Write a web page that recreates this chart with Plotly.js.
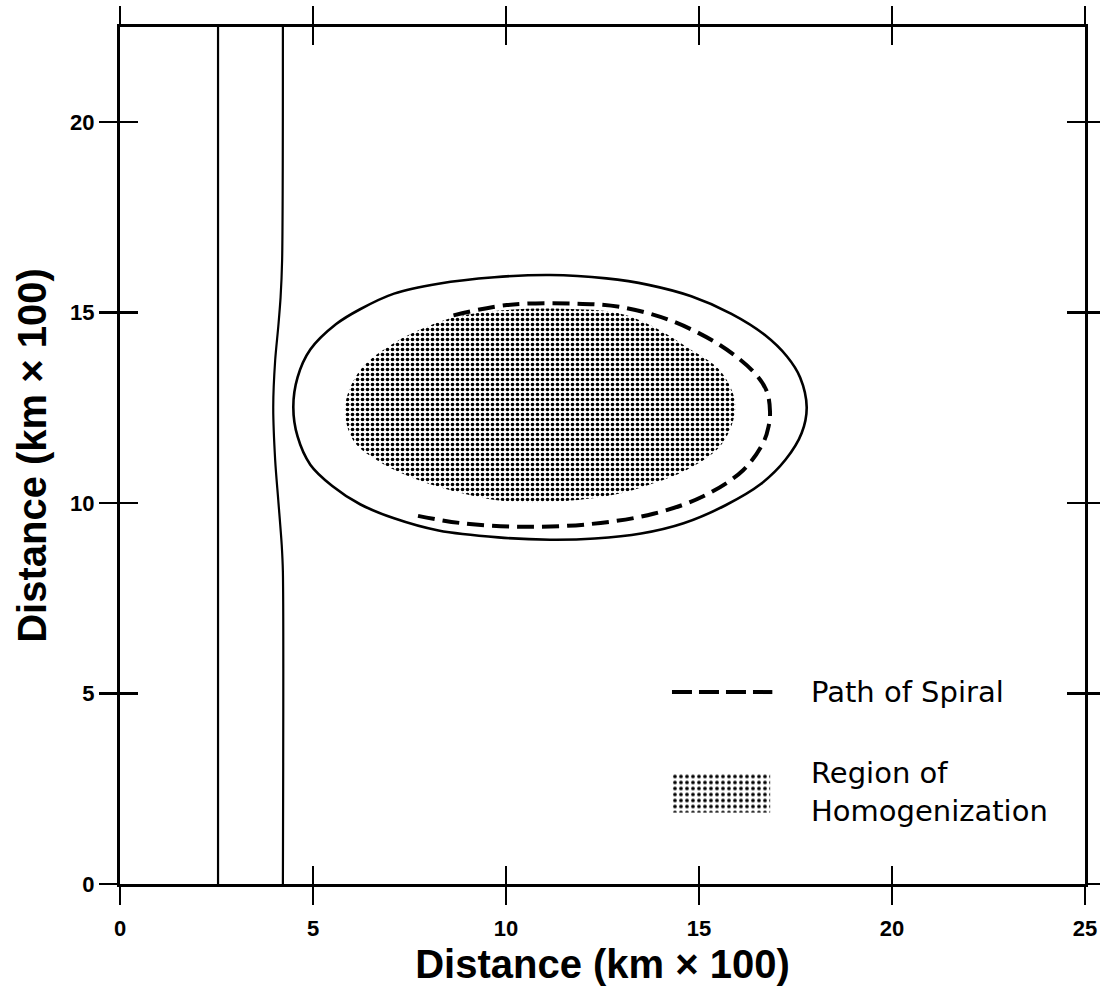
<!DOCTYPE html>
<html>
<head>
<meta charset="utf-8">
<script src="https://cdn.plot.ly/plotly-3.0.1.min.js"></script>
<style>
  html, body { margin: 0; padding: 0; background: #ffffff; }
  #chart { width: 1100px; height: 998px; }
</style>
</head>
<body>
<div id="chart"></div>
<script>
// ---- data ----
const xTickVals = [0, 5, 10, 15, 20, 25];
const yTickVals = [0, 5, 10, 15, 20];

// left vertical line
const line1X = [2.54, 2.54];
const line1Y = [0, 22.5];

// second vertical line (slight bulge to the left near y = 12.5)
const line2X = [4.22, 4.22, 4.19, 4.10, 4.02, 3.97, 4.02, 4.10, 4.16, 4.20, 4.22];
const line2Y = [0, 8.2, 8.9, 10.08, 11.13, 12.53, 13.75, 14.63, 15.40, 16.38, 22.5];

// outer solid closed curve
const outerX = [4.49, 4.60, 4.93, 5.60, 6.22, 7.10, 8.25, 9.70, 11.14, 12.60, 13.69, 14.80, 15.84, 16.70, 17.28, 17.62, 17.79, 17.66, 17.25, 16.60, 15.70, 14.60, 13.50, 12.30, 11.14, 9.80, 8.25, 7.10, 6.22, 5.50, 4.93, 4.60, 4.49];
const outerY = [12.52, 13.30, 14.03, 14.70, 15.09, 15.50, 15.76, 15.93, 15.99, 15.90, 15.73, 15.43, 14.97, 14.42, 13.85, 13.30, 12.52, 11.84, 11.15, 10.50, 9.95, 9.47, 9.20, 9.07, 9.04, 9.10, 9.28, 9.60, 9.97, 10.45, 11.01, 11.75, 12.52];

// path of spiral (dashed, open)
const spiralX = [8.64, 10.02, 11.74, 12.95, 14.25, 15.54, 16.41, 16.75, 16.84, 16.80, 16.67, 16.15, 15.11, 13.82, 12.18, 10.45, 8.80, 7.55];
const spiralY = [14.93, 15.20, 15.24, 15.15, 14.80, 14.15, 13.45, 12.95, 12.40, 12.00, 11.60, 10.87, 10.18, 9.72, 9.45, 9.38, 9.48, 9.70];

// region of homogenization (stippled)
const regionX = [5.83, 6.22, 7.08, 7.95, 8.72, 10.0, 11.5, 12.95, 13.82, 14.68, 15.54, 15.93, 15.89, 15.54, 14.68, 13.82, 12.95, 11.5, 10.0, 8.55, 7.51, 6.65, 6.04, 5.83];
const regionY = [12.53, 13.49, 14.19, 14.63, 14.89, 15.07, 15.10, 14.98, 14.63, 14.10, 13.49, 12.70, 12.18, 11.48, 10.87, 10.52, 10.25, 10.05, 10.05, 10.34, 10.69, 11.13, 11.65, 12.53];

// legend swatch (unit box on its own small axes)
const swatchX = [0, 1, 1, 0, 0];
const swatchY = [0, 0, 1, 1, 0];

const legendNames = ['Path of Spiral', 'Region of<br>Homogenization'];
const axisTitle = 'Distance (km × 100)';

// ---- styling ----
const ink = '#000000';
const paper = '#ffffff';
const clear = 'rgba(255,255,255,0)';

const traces = [
  { x: regionX, y: regionY, type: 'scatter', mode: 'lines', fill: 'toself',
    fillcolor: paper,
    fillpattern: { shape: '.', size: 5, solidity: 0.42, fgcolor: ink, fgopacity: 1, bgcolor: paper, fillmode: 'replace' },
    line: { width: 0, shape: 'spline', smoothing: 1, color: clear },
    name: legendNames[1], showlegend: false, hoverinfo: 'skip' },
  { x: outerX, y: outerY, type: 'scatter', mode: 'lines',
    line: { width: 2.6, shape: 'spline', smoothing: 1, color: ink },
    showlegend: false, hoverinfo: 'skip' },
  { x: spiralX, y: spiralY, type: 'scatter', mode: 'lines',
    line: { width: 4, shape: 'spline', smoothing: 1, color: ink, dash: '17px,8px' },
    name: legendNames[0], showlegend: false, hoverinfo: 'skip' },
  { x: line2X, y: line2Y, type: 'scatter', mode: 'lines',
    line: { width: 2.2, shape: 'spline', smoothing: 0.8, color: ink },
    showlegend: false, hoverinfo: 'skip' },
  { x: line1X, y: line1Y, xaxis: 'x2', yaxis: 'y2', type: 'scatter', mode: 'lines',
    line: { width: 2.2, color: ink },
    showlegend: false, hoverinfo: 'skip' },
  { x: swatchX, y: swatchY, xaxis: 'x3', yaxis: 'y3', type: 'scatter', mode: 'lines', fill: 'toself',
    fillcolor: paper,
    fillpattern: { shape: '.', size: 6, solidity: 0.3, fgcolor: ink, fgopacity: 1, bgcolor: paper, fillmode: 'replace' },
    line: { width: 0, color: clear },
    showlegend: false, hoverinfo: 'skip' }
];

const tickFont = { family: 'Liberation Sans, Arial, sans-serif', size: 22, color: ink, weight: 'bold' };
const titleFont = { family: 'Liberation Sans, Arial, sans-serif', size: 40, color: ink, weight: 'bold' };
const legendFont = { family: 'DejaVu Sans, sans-serif', size: 29, color: ink };

const layout = {
  width: 1100, height: 998,
  margin: { l: 120, r: 15, t: 27, b: 114, pad: 0 },
  paper_bgcolor: paper, plot_bgcolor: paper,
  showlegend: false,
  xaxis: {
    range: [0, 25], tickmode: 'array', tickvals: xTickVals, ticktext: xTickVals.map(String),
    ticks: 'outside', ticklen: 18, tickwidth: 2.4, tickcolor: ink,
    showline: true, linewidth: 3, linecolor: ink, mirror: 'allticks',
    showgrid: false, zeroline: false, tickfont: tickFont, ticklabelstandoff: 5,
    title: { text: axisTitle, font: titleFont, standoff: 10 },
    fixedrange: true
  },
  yaxis: {
    range: [0, 22.5], tickmode: 'array', tickvals: yTickVals, ticktext: yTickVals.map(String),
    ticks: 'outside', ticklen: 18, tickwidth: 2.4, tickcolor: ink,
    showline: true, linewidth: 3, linecolor: ink, mirror: 'allticks',
    showgrid: false, zeroline: false, tickfont: tickFont, ticklabelstandoff: 0,
    title: { text: axisTitle, font: titleFont, standoff: 12 },
    fixedrange: true
  },
  xaxis2: {
    overlaying: 'x', range: [0, 25], tickmode: 'array', tickvals: xTickVals,
    ticks: 'inside', ticklen: 18, tickwidth: 2.4, tickcolor: ink, mirror: 'allticks',
    showline: false, showgrid: false, zeroline: false, showticklabels: false, fixedrange: true
  },
  yaxis2: {
    overlaying: 'y', range: [0, 22.5], tickmode: 'array', tickvals: yTickVals,
    ticks: 'inside', ticklen: 18, tickwidth: 2.4, tickcolor: ink, mirror: 'allticks',
    showline: false, showgrid: false, zeroline: false, showticklabels: false, fixedrange: true
  },
  xaxis3: { domain: [0.572, 0.674], range: [0, 1], visible: false, fixedrange: true, anchor: 'y3' },
  yaxis3: { domain: [0.083, 0.129], range: [0, 1], visible: false, fixedrange: true, anchor: 'x3' },
  shapes: [
    { type: 'line', xref: 'paper', yref: 'paper', x0: 0.572, x1: 0.676, y0: 0.224, y1: 0.224,
      line: { color: ink, width: 4, dash: '20px,7px' } }
  ],
  annotations: [
    { xref: 'paper', yref: 'paper', x: 0.714, y: 0.224, xanchor: 'left', yanchor: 'middle',
      text: legendNames[0], showarrow: false, font: legendFont, align: 'left' },
    { xref: 'paper', yref: 'paper', x: 0.714, y: 0.107, xanchor: 'left', yanchor: 'middle',
      text: legendNames[1], showarrow: false, font: legendFont, align: 'left' }
  ]
};

Plotly.newPlot('chart', traces, layout, { displayModeBar: false, staticPlot: true });
</script>
</body>
</html>
